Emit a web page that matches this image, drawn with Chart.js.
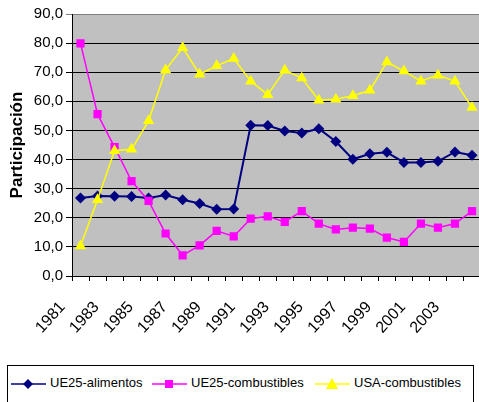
<!DOCTYPE html>
<html>
<head>
<meta charset="utf-8">
<script src="https://cdn.jsdelivr.net/npm/chart.js@4/dist/chart.umd.min.js"></script>
<style>
  html, body { margin: 0; padding: 0; background: #fff; overflow: hidden; }
  #wrap { position: relative; width: 479px; height: 402px; overflow: hidden; }
  #chart { position: absolute; left: 0; top: 0; }
  #legend {
    position: absolute; left: 7px; top: 365px; width: 467px; height: 40px;
    border: 1px solid #000; background: #fff; box-sizing: border-box;
    font-family: "Liberation Sans", Arial, sans-serif; font-size: 13px; color: #000;
  }
  .item { position: absolute; top: 8px; height: 18px; line-height: 18px; white-space: nowrap; }
  .item svg { vertical-align: middle; margin-right: 4px; }
</style>
</head>
<body>
<div id="wrap">
  <!-- el lienzo es algo mas ancho que la ventana: el area gris se corta en el borde -->
  <canvas id="chart" width="487" height="402"></canvas>
  <div id="legend"></div>
</div>
<script>
// datos
const years = ['1981', '1982', '1983', '1984', '1985', '1986', '1987', '1988', '1989', '1990',
    '1991', '1992', '1993', '1994', '1995', '1996', '1997', '1998', '1999', '2000',
    '2001', '2002', '2003', '2004'];
const ueAlimentos = [26.8, 27.5, 27.4, 27.3, 26.8, 27.8, 26.2, 24.9, 22.9, 23.0,
    51.8, 51.7, 49.8, 49.1, 50.6, 46.2, 40.1, 42.0, 42.5, 39.0,
    39.0, 39.4, 42.6, 41.5];
const ueCombustibles = [79.9, 55.6, 44.3, 32.6, 25.8, 14.6, 7.1, 10.5, 15.5, 13.6,
    19.7, 20.5, 18.6, 22.3, 18.0, 16.0, 16.6, 16.3, 13.2, 11.7,
    18.0, 16.6, 18.0, 22.3];
const usaCombustibles = [10.3, 26.2, 43.0, 43.5, 53.3, 70.8, 78.4, 69.3, 72.2, 74.7,
    66.9, 62.3, 70.7, 68.0, 60.4, 60.7, 61.9, 63.8, 73.5, 70.4,
    66.9, 69.0, 66.9, 57.9];
const seriesNames = ['UE25-alimentos', 'UE25-combustibles', 'USA-combustibles'];
const yMin = 0, yMax = 90, yStep = 10;

const FONT = '"Liberation Sans", Arial, sans-serif';

// fondo gris del area de trazado
const plotBg = {
    id: 'plotBg',
    beforeDraw(chart) {
        const a = chart.chartArea;
        const ctx = chart.ctx;
        ctx.save();
        ctx.fillStyle = '#C0C0C0';
        ctx.fillRect(a.left, a.top, a.right - a.left, a.bottom - a.top);
        ctx.restore();
    }
};

const chart = new Chart(document.getElementById('chart'), {
    type: 'line',
    data: {
        labels: years,
        datasets: [
            {
                label: seriesNames[0], data: ueAlimentos, order: 3,
                borderColor: '#000080', backgroundColor: '#000080', borderWidth: 2,
                pointStyle: 'rectRot', pointRadius: 5.5, pointBorderWidth: 0
            },
            {
                label: seriesNames[1], data: ueCombustibles, order: 2,
                borderColor: '#FF00FF', backgroundColor: '#FF00FF', borderWidth: 1.5,
                pointStyle: 'rect', pointRadius: 5.8, pointBorderWidth: 0
            },
            {
                label: seriesNames[2], data: usaCombustibles, order: 1,
                borderColor: '#FFFF00', backgroundColor: '#FFFF00', borderWidth: 1.5,
                pointStyle: 'triangle', pointRadius: 6.5, pointBorderWidth: 0
            }
        ]
    },
    options: {
        responsive: false,
        animation: false,
        layout: { padding: { top: 14, right: 0, bottom: 0, left: 0 } },
        plugins: { legend: { display: false }, tooltip: { enabled: false } },
        elements: { line: { tension: 0 } },
        scales: {
            x: {
                offset: true,
                afterFit(scale) {
                    scale.height = 126;
                    scale.paddingLeft = 0;
                    scale.paddingRight = 0;
                },
                grid: { offset: true, drawOnChartArea: false, drawTicks: true, tickLength: 5, color: '#000' },
                border: { color: '#000' },
                ticks: {
                    autoSkip: false, maxRotation: 48, minRotation: 48, labelOffset: -18, padding: 17,
                    color: '#000', font: { family: FONT, size: 16 },
                    callback: (v, i) => (i % 2 === 0 ? years[i] : '')
                }
            },
            y: {
                min: yMin, max: yMax,
                afterFit(scale) { scale.width = 72; },
                grid: {
                    color: ctx => (ctx.tick && ctx.tick.value === yMax ? '#808080' : '#000'),
                    lineWidth: 1, tickLength: 6, drawTicks: true
                },
                border: { color: '#000', width: 1 },
                ticks: {
                    stepSize: yStep, padding: 3, color: '#000',
                    font: { family: FONT, size: 15 },
                    callback: v => v.toFixed(1).replace('.', ',')
                },
                title: {
                    display: true, text: 'Participación', color: '#000',
                    padding: { top: 7, bottom: 0 },
                    font: { family: FONT, size: 17, weight: 'bold' }
                }
            }
        }
    },
    plugins: [plotBg]
});

// leyenda con linea y marcador, como en el original
function renderLegend() {
    const box = document.getElementById('legend');
    const lefts = [3, 144, 307];
    const shapes = [
        '<polygon points="17,3 22,8 17,13 12,8" fill="#000080"/>',
        '<rect x="13" y="4" width="8" height="8" fill="#FF00FF"/>',
        '<polygon points="17,2 23,13 11,13" fill="#FFFF00"/>'
    ];
    box.innerHTML = chart.data.datasets.map((ds, i) => `
        <div class="item" style="left:${lefts[i]}px">
            <svg width="35" height="16"><line x1="0" y1="8" x2="35" y2="8" stroke="${ds.borderColor}" stroke-width="1.5"/>${shapes[i]}</svg>${ds.label}
        </div>`).join('');
}
renderLegend();
</script>
</body>
</html>
